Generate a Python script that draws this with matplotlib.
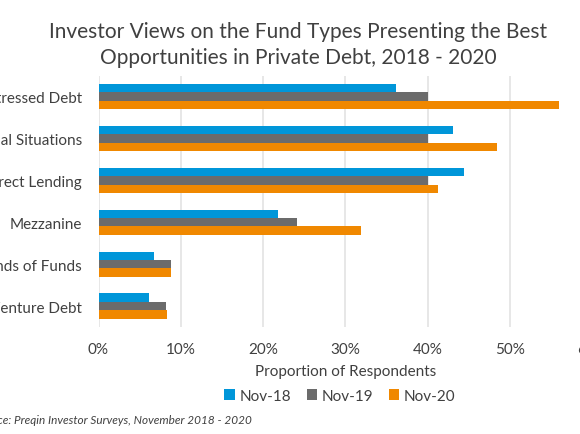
import numpy as np
import matplotlib.pyplot as plt
from matplotlib.ticker import PercentFormatter

# Data (percent of respondents)
categories = ["Distressed Debt", "Special Situations", "Direct Lending",
              "Mezzanine", "Funds of Funds", "Venture Debt"]
nov_18 = [36.1, 43.1, 44.4, 21.8, 6.7, 6.1]
nov_19 = [40.0, 40.0, 40.0, 24.1, 8.8, 8.2]
nov_20 = [55.9, 48.4, 41.3, 31.9, 8.8, 8.3]
series_names = ["Nov-18", "Nov-19", "Nov-20"]
colors = ["#0096d9", "#6b6b6b", "#f08800"]
x_ticks = [0, 10, 20, 30, 40, 50, 60]

plt.rcParams["font.family"] = ["Lato", "DejaVu Sans"]
text_col = "#404040"

W, H = 580, 435
fig = plt.figure(figsize=(W / 100, H / 100), dpi=100)

# axes placed so the left labels and the 60% end run past the figure edge,
# as in the cropped reference
left, right, top, bottom = 98.5, 592.3, 76.7, 328.0
ax = fig.add_axes([left / W, 1 - bottom / H, (right - left) / W, (bottom - top) / H])

y = np.arange(len(categories))
bh = 0.2
for i, (vals, name, c) in enumerate(zip([nov_18, nov_19, nov_20], series_names, colors)):
    ax.barh(y + (i - 1) * bh, vals, height=bh, color=c, label=name, zorder=3)

ax.set_ylim(len(categories) - 0.5, -0.5)
ax.set_xlim(0, 60)
ax.set_xticks(x_ticks)
ax.xaxis.set_major_formatter(PercentFormatter(decimals=0))
ax.set_yticks(y)
ax.set_yticklabels(categories)
ax.tick_params(axis="both", length=0, labelsize=11, colors=text_col)
ax.tick_params(axis="x", pad=11)
ax.tick_params(axis="y", pad=12)
for s in ax.spines.values():
    s.set_visible(False)
ax.grid(axis="x", color="#e3e3e3", linewidth=1.2, zorder=0)
ax.set_axisbelow(True)

fig.text((left + right) / 2 / W, 1 - 372 / H, "Proportion of Respondents",
         ha="center", va="center", fontsize=11, color=text_col)

fig.text(298 / W, 1 - 45 / H,
         "Investor Views on the Fund Types Presenting the Best\nOpportunities in Private Debt, 2018 - 2020",
         ha="center", va="center", fontsize=15, color=text_col, linespacing=1.35)

fig.legend(loc="center", bbox_to_anchor=(340 / W, 1 - 397 / H), ncol=3, frameon=False,
           fontsize=11, handlelength=0.7, handleheight=0.7, handletextpad=0.3,
           columnspacing=1.0, labelcolor=text_col)

fig.text(252 / W, 1 - 421 / H, "Source: Preqin Investor Surveys, November 2018 - 2020",
         ha="right", va="center", fontsize=8.5, style="italic", color=text_col)

fig.savefig("out.png", dpi=100)
